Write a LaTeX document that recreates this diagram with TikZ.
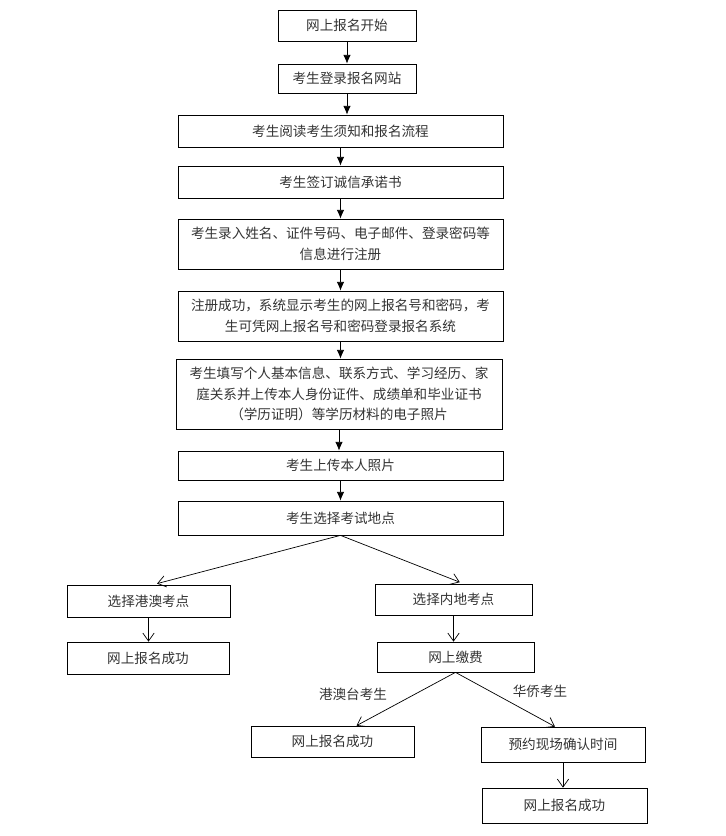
\documentclass[tikz,border=0pt]{standalone}
\usepackage{fontspec}
\newfontfamily\cjk{Noto Sans CJK SC}
\usepackage{tikz}
\usetikzlibrary{arrows.meta}

\begin{document}
\begin{tikzpicture}[x=0.03cm,y=-0.03cm,
  box/.style={draw,line width=0.6pt,inner sep=0pt,align=center,text=black!80,
    font=\cjk\fontsize{11.6pt}{17.6pt}\selectfont},
  wide/.style={box,minimum width=9.75cm},
  small/.style={box,minimum width=4.9cm},
  lab/.style={text=black!80,font=\cjk\fontsize{11.6pt}{14pt}\selectfont},
  solid arrow/.style={-{Latex[length=2.6mm,width=2.2mm]},line width=0.6pt},
  open arrow/.style={-{Straight Barb[length=2.4mm,width=3.4mm]},line width=0.6pt}]
\useasboundingbox (0,0) rectangle (726,836);
\node[box,minimum width=4.14cm,minimum height=0.93cm](a1) at (347,25.5){网上报名开始};
\node[box,minimum width=4.14cm,minimum height=0.87cm](a2) at (347,78.5){考生登录报名网站};
\node[wide,minimum height=0.96cm](a3) at (340.5,131){考生阅读考生须知和报名流程};
\node[wide,minimum height=0.96cm](a4) at (340.5,182){考生签订诚信承诺书};
\node[wide,minimum height=1.5cm](a5) at (340.5,244){考生录入姓名、证件号码、电子邮件、登录密码等\\信息进行注册};
\node[wide,minimum height=1.5cm](a6) at (340.5,316){注册成功，系统显示考生的网上报名号和密码，考\\生可凭网上报名号和密码登录报名系统};
\node[box,minimum width=9.78cm,minimum height=2.1cm](a7) at (339,394){考生填写个人基本信息、联系方式、学习经历、家\\庭关系并上传本人身份证件、成绩单和毕业证书\\（学历证明）等学历材料的电子照片};
\node[wide,minimum height=0.87cm](a8) at (340.5,465.5){考生上传本人照片};
\node[wide,minimum height=1.02cm](a9) at (340.5,518){考生选择考试地点};
\draw[solid arrow](a1.south) -- (a1.south |- a2.north);
\draw[solid arrow](a2.south) -- (a2.south |- a3.north);
\draw[solid arrow](a3.south) -- (a4.north);
\draw[solid arrow](a4.south) -- (a5.north);
\draw[solid arrow](a5.south) -- (a6.north);
\draw[solid arrow](a6.south) -- (a6.south |- a7.north);
\draw[solid arrow](a7.south) -- (a7.south |- a8.north);
\draw[solid arrow](a8.south) -- (a9.north);
% branches
\node[small,minimum width=4.89cm,minimum height=0.96cm](b1) at (148.5,601){选择港澳考点};
\node[small,minimum width=4.86cm,minimum height=0.96cm](b2) at (148,658){网上报名成功};
\node[small,minimum width=4.71cm,minimum height=0.93cm](c1) at (453.5,599.5){选择内地考点};
\node[small,minimum width=4.71cm,minimum height=0.9cm](c2) at (455.5,657){网上缴费};
\node[small,minimum width=4.89cm,minimum height=0.93cm](d1) at (332.5,741.5){网上报名成功};
\node[small,minimum width=4.92cm,minimum height=1.05cm](e1) at (563,744.5){预约现场确认时间};
\node[small,minimum width=4.95cm,minimum height=1.05cm](e2) at (564.5,805.5){网上报名成功};
\draw[open arrow,shorten >=1.2mm](a9.south) -- ([xshift=0.14cm]b1.north);
\draw[open arrow,shorten >=1.2mm](a9.south) -- ([xshift=0.3cm]c1.north);
\draw[open arrow](b1.south) -- (b1.south |- b2.north);
\draw[open arrow](c1.south) -- (c1.south |- c2.north);
\draw[open arrow](c2.south) -- ([xshift=0.72cm]d1.north);
\draw[open arrow](c2.south) -- ([xshift=-0.24cm]e1.north);
\draw[open arrow](e1.south) -- (e1.south |- e2.north);
\node[lab](l1) at (353,694){港澳台考生};
\node[lab](l2) at (540,691){华侨考生};
\end{tikzpicture}
\end{document}
